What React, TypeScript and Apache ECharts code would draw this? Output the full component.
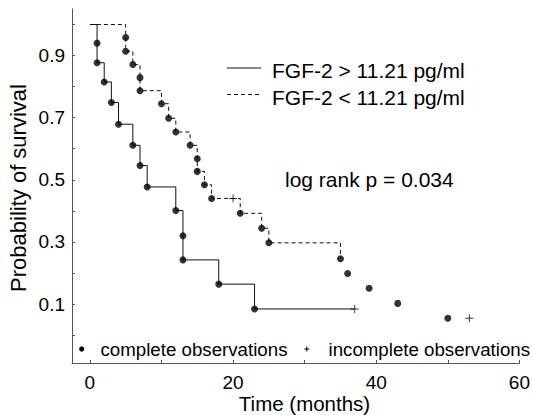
import React, { useEffect, useRef } from "react";
import * as echarts from "echarts";

// Group FGF-2 > 11.21 pg/ml (solid)
const solidEventTimes = [1, 1, 2, 3, 4, 6, 7, 8, 12, 13, 13, 18, 23];
const solidSurvival = [0.94, 0.877, 0.815, 0.749, 0.679, 0.611, 0.546, 0.477, 0.401, 0.32, 0.242, 0.164, 0.084];
const solidCensorTimes = [37];
const solidCensorSurvival = [0.084];
const solidLineEndTime = 37;

// Group FGF-2 < 11.21 pg/ml (dashed)
const dashedEventTimes = [5, 5, 6, 7, 7, 10, 11, 12, 14, 15, 15, 16, 17, 21, 24, 25, 35, 36, 39, 43, 50];
const dashedSurvival = [0.958, 0.914, 0.871, 0.829, 0.787, 0.745, 0.698, 0.654, 0.611, 0.568, 0.527, 0.484, 0.44, 0.392, 0.344, 0.297, 0.246, 0.198, 0.151, 0.102, 0.054];
const dashedCensorTimes = [20, 53];
const dashedCensorSurvival = [0.44, 0.054];
const dashedLineEndTime = 35;

const xTicks = [0, 10, 20, 30, 40, 50, 60];
const xLabels = [0, 20, 40, 60];
const yTicks = [0, 0.1, 0.2, 0.3, 0.4, 0.5, 0.6, 0.7, 0.8, 0.9, 1.0];
const yLabels = [0.1, 0.3, 0.5, 0.7, 0.9];

const legendLabels = ["FGF-2 > 11.21 pg/ml", "FGF-2 < 11.21 pg/ml"];
const statText = "log rank p = 0.034";
const markerLegend = ["complete observations", "incomplete observations"];

const FONT = "'Liberation Sans', Arial, Helvetica, sans-serif";
const CROSS = "path://M-0.12,-1H0.12V-0.12H1V0.12H0.12V1H-0.12V0.12H-1V-0.12H-0.12Z";

function stepData(times: number[], surv: number[], cTimes: number[], cSurv: number[], end: number) {
  const pts: [number, number][] = [[0, 1]];
  const all: [number, number][] = [];
  times.forEach((t, i) => all.push([t, surv[i]]));
  cTimes.forEach((t, i) => all.push([t, cSurv[i]]));
  all.sort((a, b) => a[0] - b[0] || b[1] - a[1]);
  all.filter((p) => p[0] <= end).forEach((p) => pts.push(p));
  return pts;
}

export default function App() {
  const ref = useRef<HTMLDivElement>(null);
  useEffect(() => {
    if (!ref.current) return;
    const chart = echarts.init(ref.current, null, { renderer: "svg" });
    const solidLine = stepData(solidEventTimes, solidSurvival, solidCensorTimes, solidCensorSurvival, solidLineEndTime);
    const dashedLine = stepData(dashedEventTimes, dashedSurvival, dashedCensorTimes, dashedCensorSurvival, dashedLineEndTime);
    const txt = (text: string, x: number, y: number, size: number, align = "left", rotation = 0) => ({
      type: "text",
      x,
      y,
      rotation,
      style: {
        text,
        fontSize: size,
        fontFamily: FONT,
        fill: "#000",
        align,
        verticalAlign: "middle",
        textAlign: align,
        textVerticalAlign: "middle",
      },
    });
    chart.setOption({
      animation: false,
      backgroundColor: "#fff",
      grid: { left: 72, right: 11, top: 9, bottom: 52, containLabel: false },
      xAxis: {
        type: "value",
        min: -2.5,
        max: 60,
        axisLine: { onZero: false, lineStyle: { color: "#555", width: 1 } },
        axisTick: { inside: true, length: 3, customValues: xTicks, lineStyle: { color: "#555" } },
        axisLabel: { customValues: xLabels, margin: 10, fontSize: 19, color: "#000", fontFamily: FONT },
        splitLine: { show: false },
      },
      yAxis: {
        type: "value",
        min: -0.09,
        max: 1.05,
        axisLine: { show: true, onZero: false, lineStyle: { color: "#555", width: 1 } },
        axisTick: { show: true, inside: true, length: 3, customValues: yTicks, lineStyle: { color: "#555" } },
        axisLabel: {
          customValues: yLabels,
          margin: 7,
          fontSize: 19,
          color: "#000",
          fontFamily: FONT,
          formatter: (v: number) => v.toFixed(1),
        },
        splitLine: { show: false },
      },
      series: [
        {
          type: "line",
          step: "end",
          data: solidLine,
          showSymbol: false,
          lineStyle: { color: "#111", width: 1 },
          z: 2,
        },
        {
          type: "line",
          step: "end",
          data: dashedLine,
          showSymbol: false,
          lineStyle: { color: "#111", width: 1, type: [4, 3] },
          z: 2,
        },
        {
          type: "scatter",
          data: solidEventTimes.map((t, i) => [t, solidSurvival[i]]),
          symbol: "circle",
          symbolSize: 7,
          itemStyle: { color: "#000" },
          z: 3,
        },
        {
          type: "scatter",
          data: dashedEventTimes.map((t, i) => [t, dashedSurvival[i]]),
          symbol: "circle",
          symbolSize: 7,
          itemStyle: { color: "#000" },
          z: 3,
        },
        {
          type: "scatter",
          data: solidCensorTimes.map((t, i) => [t, solidCensorSurvival[i]])
            .concat(dashedCensorTimes.map((t, i) => [t, dashedCensorSurvival[i]])),
          symbol: CROSS,
          symbolSize: 8,
          itemStyle: { color: "#000" },
          z: 3,
        },
      ],
      graphic: [
        { type: "line", shape: { x1: 227, y1: 68, x2: 261, y2: 68 }, style: { stroke: "#111", lineWidth: 1 } },
        { type: "line", shape: { x1: 227, y1: 94.5, x2: 261, y2: 94.5 }, style: { stroke: "#111", lineWidth: 1, lineDash: [4, 3] } },
        txt(legendLabels[0], 272, 70, 21),
        txt(legendLabels[1], 272, 97.5, 21),
        txt(statText, 285, 179, 21),
        { type: "circle", shape: { cx: 81.7, cy: 349, r: 2.6 }, style: { fill: "#000" } },
        txt(markerLegend[0], 100.5, 349.5, 18.7),
        { type: "line", shape: { x1: 304.3, y1: 349, x2: 309.3, y2: 349 }, style: { stroke: "#000", lineWidth: 1 } },
        { type: "line", shape: { x1: 306.8, y1: 346.5, x2: 306.8, y2: 351.5 }, style: { stroke: "#000", lineWidth: 1 } },
        txt(markerLegend[1], 328.5, 349.5, 18.7),
        txt("Time (months)", 304.5, 403, 20.5, "center"),
        txt("Probability of survival", 18, 188, 22, "center", Math.PI / 2),
      ],
    });
    return () => chart.dispose();
  }, []);
  return <div ref={ref} style={{ position: "fixed", left: 0, top: 0, width: 533, height: 415 }} />;
}
